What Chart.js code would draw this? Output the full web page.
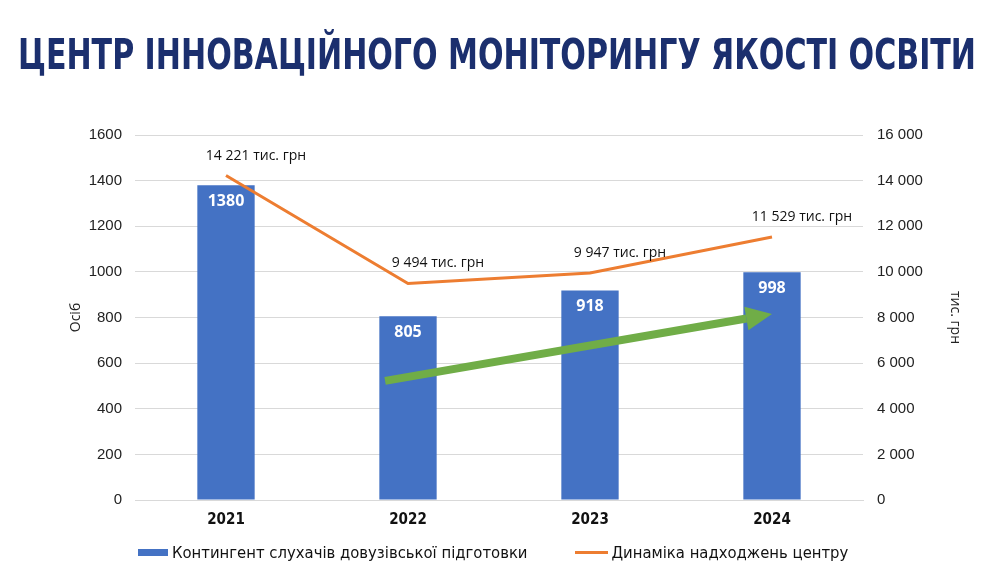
<!DOCTYPE html>
<html>
<head>
<meta charset="utf-8">
<script src="https://cdn.jsdelivr.net/npm/chart.js@4.4.1/dist/chart.umd.min.js"></script>
<style>
  html, body { margin: 0; padding: 0; background: #fff; }
  #wrap { position: relative; width: 1000px; height: 587px; }
  #legend { position: absolute; left: 138px; top: 543px; display: flex; align-items: center;
            font-family: "DejaVu Sans Condensed", sans-serif; font-size: 16.5px; color: #111; white-space: nowrap; }
  #legend .item { display: flex; align-items: center; margin-right: 47px; }
  #legend .mark { margin-right: 4px; }
</style>
</head>
<body>
<div id="wrap">
  <canvas id="myChart" width="1000" height="587"></canvas>
  <div id="legend"></div>
</div>
<script>
var title = 'ЦЕНТР ІННОВАЦІЙНОГО МОНІТОРИНГУ ЯКОСТІ ОСВІТИ';
var years = ['2021', '2022', '2023', '2024'];
var students = [1380, 805, 918, 998];
var income = [14221, 9494, 9947, 11529];
var incomeLabels = ['14 221 тис. грн', '9 494 тис. грн', '9 947 тис. грн', '11 529 тис. грн'];
// trend arrow: from just left of 2022 to 2024, in left-axis units
var arrowFrom = [0.874, 522];
var arrowTo = [3, 815];

function spaced(v) {
    return String(v).replace(/\B(?=(\d{3})+(?!\d))/g, ' ');
}

var titlePlugin = {
    id: 'bigTitle',
    afterDraw: function(chart) {
        var ctx = chart.ctx;
        ctx.save();
        ctx.fillStyle = '#1b2f6e';
        ctx.font = 'bold 42px "DejaVu Sans Condensed", sans-serif';
        ctx.textAlign = 'center';
        ctx.textBaseline = 'middle';
        ctx.fillText(title, 497, 58, 958);
        ctx.restore();
    }
};

var labelsPlugin = {
    id: 'labels',
    afterDatasetsDraw: function(chart) {
        var ctx = chart.ctx;
        ctx.save();
        // numbers inside bars
        var bars = chart.getDatasetMeta(1).data;
        ctx.fillStyle = '#ffffff';
        ctx.font = 'bold 16px "Open Sans", sans-serif';
        ctx.textAlign = 'center';
        ctx.textBaseline = 'middle';
        bars.forEach(function(b, i) {
            ctx.fillText(students[i], b.x, b.y + 16);
        });
        // income labels
        var pts = chart.getDatasetMeta(0).data;
        ctx.fillStyle = '#111';
        ctx.font = '14px "Open Sans", sans-serif';
        pts.forEach(function(p, i) {
            ctx.fillText(incomeLabels[i], p.x + 30, p.y - 20);
        });
        ctx.restore();
    }
};

var arrowPlugin = {
    id: 'arrow',
    afterDatasetsDraw: function(chart) {
        var xs = chart.scales.x, ys = chart.scales.y;
        var x0 = xs.getPixelForValue(arrowFrom[0]), y0 = ys.getPixelForValue(arrowFrom[1]);
        var x1 = xs.getPixelForValue(arrowTo[0]), y1 = ys.getPixelForValue(arrowTo[1]);
        var ang = Math.atan2(y1 - y0, x1 - x0);
        var head = 26;
        var ctx = chart.ctx;
        ctx.save();
        ctx.strokeStyle = '#70ad47';
        ctx.fillStyle = '#70ad47';
        ctx.lineWidth = 8;
        ctx.beginPath();
        ctx.moveTo(x0, y0);
        ctx.lineTo(x1 - head * Math.cos(ang), y1 - head * Math.sin(ang));
        ctx.stroke();
        ctx.beginPath();
        ctx.moveTo(x1, y1);
        ctx.lineTo(x1 - head * Math.cos(ang) + 12 * Math.sin(ang), y1 - head * Math.sin(ang) - 12 * Math.cos(ang));
        ctx.lineTo(x1 - head * Math.cos(ang) - 12 * Math.sin(ang), y1 - head * Math.sin(ang) + 12 * Math.cos(ang));
        ctx.closePath();
        ctx.fill();
        ctx.restore();
    }
};

var ctx = document.getElementById('myChart').getContext('2d');
var myChart = new Chart(ctx, {
    type: 'bar',
    data: {
        labels: years,
        datasets: [{
            type: 'line',
            label: 'Динаміка надходжень центру',
            data: income,
            yAxisID: 'y1',
            borderColor: '#ed7d31',
            backgroundColor: '#ed7d31',
            borderWidth: 3,
            pointRadius: 0,
            tension: 0,
            order: 0
        }, {
            label: 'Контингент слухачів довузівської підготовки',
            data: students,
            yAxisID: 'y',
            backgroundColor: '#4472c4',
            borderColor: '#4472c4',
            borderWidth: 0,
            barPercentage: 0.63,
            categoryPercentage: 0.5,
            order: 1
        }]
    },
    options: {
        responsive: false,
        animation: false,
        layout: { padding: { left: 0, right: 0, top: 135, bottom: 55 } },
        plugins: {
            legend: { display: false },
            tooltip: { enabled: false }
        },
        scales: {
            x: {
                grid: { display: false },
                border: { color: '#d9d9d9' },
                ticks: { color: '#111', font: { family: '"DejaVu Sans Condensed", sans-serif', size: 15, weight: 'bold' }, padding: 3 }
            },
            y: {
                position: 'left',
                min: 0, max: 1600,
                afterFit: function(s) { s.width = 135; },
                ticks: { stepSize: 200, color: '#222', font: { family: '"Liberation Sans", Arial, sans-serif', size: 15 }, padding: 13,
                    callback: function(v) { return String(v); } },
                grid: { color: '#d9d9d9', drawTicks: false },
                border: { display: false },
                title: { display: true, text: 'Осіб', color: '#222', font: { family: '"Open Sans", sans-serif', size: 14 }, padding: { top: 68, bottom: 0 } }
            },
            y1: {
                position: 'right',
                min: 0, max: 16000,
                afterFit: function(s) { s.width = 137; },
                ticks: { stepSize: 2000, color: '#222', font: { family: '"Liberation Sans", Arial, sans-serif', size: 15 }, padding: 14,
                    callback: function(v) { return spaced(v); } },
                grid: { display: false, drawTicks: false },
                border: { display: false },
                title: { display: true, text: 'тис. грн', color: '#222', font: { family: '"Open Sans", sans-serif', size: 14 }, padding: { top: 37, bottom: 0 } }
            }
        }
    },
    plugins: [titlePlugin, labelsPlugin, arrowPlugin]
});

// legend built from the datasets: bars first, then the line
var legendEl = document.getElementById('legend');
[1, 0].forEach(function(i) {
    var ds = myChart.data.datasets[i];
    var item = document.createElement('div');
    item.className = 'item';
    var mark = document.createElement('span');
    mark.className = 'mark';
    mark.style.display = 'inline-block';
    mark.style.width = (ds.type === 'line' ? 33 : 30) + 'px';
    mark.style.height = (ds.type === 'line' ? 3 : 7) + 'px';
    mark.style.background = ds.borderColor;
    var txt = document.createElement('span');
    txt.textContent = ds.label;
    item.appendChild(mark);
    item.appendChild(txt);
    legendEl.appendChild(item);
});
</script>
</body>
</html>
